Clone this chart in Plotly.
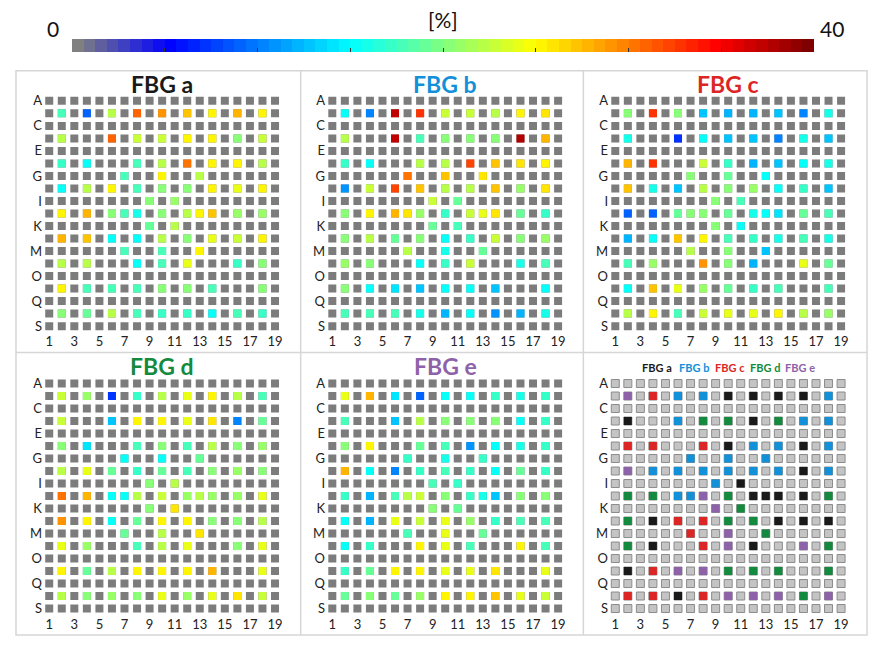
# FBG strain maps: 19x19 grid, five sensors + summary of the dominant one
import plotly.graph_objects as go

W, H = 893, 652      # browser window
OFF = 8              # default body margin of the html page
FW, FH = W - OFF, H - OFF

# ── DATA ────────────────────────────────────────────────────
row_labels = list("ABCDEFGHIJKLMNOPQRS")
col_numbers = list(range(1, 20))
x_ticks = list(range(1, 20, 2))
y_tick_labels = row_labels[::2]

# measured sites (row, column), in reading order
sites = [
    ("B", 2), ("B", 4), ("B", 6), ("B", 8), ("B", 10), ("B", 12), ("B", 14), ("B", 16), ("B", 18),
    ("D", 2), ("D", 6), ("D", 8), ("D", 10), ("D", 12), ("D", 14), ("D", 16), ("D", 18),
    ("F", 2), ("F", 4), ("F", 8), ("F", 10), ("F", 12), ("F", 14), ("F", 16), ("F", 18),
    ("G", 7), ("G", 10), ("G", 13),
    ("H", 2), ("H", 4), ("H", 6), ("H", 8), ("H", 10), ("H", 12), ("H", 14), ("H", 16), ("H", 18),
    ("I", 9), ("I", 11),
    ("J", 2), ("J", 4), ("J", 6), ("J", 7), ("J", 8), ("J", 10), ("J", 12), ("J", 13), ("J", 14), ("J", 16), ("J", 18),
    ("K", 9), ("K", 11),
    ("L", 2), ("L", 4), ("L", 6), ("L", 8), ("L", 10), ("L", 12), ("L", 14), ("L", 16), ("L", 18),
    ("M", 7), ("M", 10), ("M", 13),
    ("N", 2), ("N", 4), ("N", 8), ("N", 10), ("N", 12), ("N", 16), ("N", 18),
    ("P", 2), ("P", 4), ("P", 6), ("P", 8), ("P", 10), ("P", 12), ("P", 14), ("P", 18),
    ("R", 2), ("R", 4), ("R", 6), ("R", 8), ("R", 10), ("R", 12), ("R", 14), ("R", 16), ("R", 18),
]

# values in [%], same order as sites
fbg_a = [
    18, 9, 22, 31, 29, 27, 25, 28, 25,
    22, 31, 23, 23, 25, 25, 20, 23,
    17, 15, 18, 22, 30, 25, 25, 22,
    18, 25, 22,
    15, 22, 25, 18, 20, 20, 25, 24, 25,
    20, 21,
    25, 28, 20, 18, 16, 20, 22, 25, 27, 21, 21,
    19, 22,
    28, 27, 15, 15, 22, 20, 24, 23, 25,
    18, 18, 25,
    22, 22, 15, 18, 24, 17, 20,
    25, 18, 18, 18, 20, 20, 18, 20,
    20, 19, 22, 18, 17, 17, 15, 18, 17,
]
fbg_b = [
    15, 10, 37, 33, 23, 23, 22, 25, 26,
    22, 37, 18, 20, 20, 20, 38, 28,
    17, 15, 22, 22, 32, 27, 26, 25,
    30, 27, 26,
    11, 23, 32, 27, 22, 22, 27, 21, 26,
    23, 19,
    20, 25, 28, 26, 21, 17, 23, 24, 26, 19, 17,
    19, 18,
    20, 22, 19, 20, 15, 17, 23, 20, 21,
    22, 16, 19,
    21, 20, 15, 17, 23, 16, 18,
    20, 15, 14, 13, 15, 15, 13, 15,
    18, 18, 18, 16, 12, 15, 11, 12, 16,
]
fbg_c = [
    20, 33, 20, 13, 12, 12, 13, 10, 16,
    16, 7, 15, 13, 13, 10, 16, 13,
    28, 33, 23, 17, 12, 13, 15, 16,
    20, 19, 15,
    27, 16, 13, 22, 20, 21, 15, 17, 13,
    20, 18,
    9, 9, 19, 20, 20, 19, 16, 15, 14, 19, 18,
    20, 15,
    12, 15, 27, 25, 18, 17, 16, 18, 16,
    22, 20, 13,
    18, 21, 29, 20, 12, 24, 19,
    15, 27, 24, 21, 19, 17, 18, 18,
    22, 25, 18, 23, 24, 24, 25, 22, 21,
]
fbg_d = [
    23, 21, 7, 17, 22, 24, 25, 22, 18,
    23, 13, 25, 25, 24, 26, 10, 19,
    20, 14, 18, 20, 18, 22, 20, 21,
    15, 15, 19,
    22, 24, 19, 17, 19, 18, 20, 21, 20,
    20, 22,
    30, 28, 15, 15, 22, 23, 21, 22, 21, 21, 24,
    20, 26,
    29, 25, 15, 19, 25, 25, 20, 20, 22,
    19, 22, 26,
    24, 21, 18, 22, 24, 20, 24,
    25, 19, 22, 25, 25, 25, 28, 24,
    22, 20, 21, 20, 24, 21, 24, 26, 23,
]
fbg_e = [
    24, 28, 14, 9, 15, 15, 17, 16, 17,
    18, 13, 22, 20, 20, 20, 15, 17,
    20, 25, 19, 18, 11, 15, 16, 17,
    17, 16, 17,
    28, 15, 10, 17, 18, 17, 15, 19, 17,
    18, 17,
    17, 12, 18, 22, 23, 20, 17, 16, 13, 20, 20,
    20, 19,
    15, 12, 24, 23, 24, 21, 17, 18, 18,
    18, 24, 19,
    15, 17, 25, 24, 18, 25, 18,
    17, 19, 25, 25, 24, 24, 26, 24,
    19, 20, 19, 21, 25, 25, 27, 24, 23,
]
# which sensor is shown at each site in the summary panel
dominant = [
    "e", "c", "b", "b", "a", "a", "a", "a", "b",
    "a", "b", "d", "d", "a", "d", "b", "b",
    "c", "c", "c", "a", "b", "b", "a", "b",
    "b", "b", "b",
    "e", "b", "b", "b", "b", "b", "b", "a", "b",
    "b", "a",
    "d", "d", "b", "b", "e", "d", "a", "a", "a", "a", "d",
    "e", "d",
    "d", "a", "c", "c", "d", "d", "a", "a", "a",
    "c", "e", "d",
    "d", "a", "c", "e", "a", "e", "d",
    "a", "c", "e", "e", "d", "d", "d", "d",
    "c", "c", "a", "c", "e", "e", "e", "d", "e",
]

sensor_names = ["a", "b", "c", "d", "e"]
sensor_values = [fbg_a, fbg_b, fbg_c, fbg_d, fbg_e]
sensor_colors = {"a": "#1a1a1a", "b": "#1290d8", "c": "#dc2626",
                 "d": "#138a3e", "e": "#8e62a8"}

# ── COLOUR SCALE: jet with grey at zero, 64 steps ───────────
anchors = [(0.0, (128, 128, 128)), (0.125, (0, 0, 255)), (0.375, (0, 255, 255)),
           (0.625, (255, 255, 0)), (0.875, (255, 0, 0)), (1.0, (128, 0, 0))]


def jet_grey(t):
    for (t0, c0), (t1, c1) in zip(anchors[:-1], anchors[1:]):
        if t <= t1:
            f = (t - t0) / (t1 - t0)
            return "rgb(%d,%d,%d)" % tuple(round(a + (b - a) * f) for a, b in zip(c0, c1))
    return "rgb(128,0,0)"


n_steps = 64
colorscale = []
for i in range(n_steps):
    c = jet_grey(i / (n_steps - 1))
    colorscale += [[i / n_steps, c], [(i + 1) / n_steps, c]]


# ── LAYOUT GEOMETRY (window pixels -> paper) ────────────────
def px(x):
    return (x - OFF) / FW


def py(y):
    return 1 - (y - OFF) / FH


x_dom = [(43.0, 281.6), (326.4, 565.0), (609.7, 848.3)]
y_dom = [(93.0, 331.9), (377.0, 615.6)]
FONT = "Lato, 'Open Sans', sans-serif"

grid_x = [c for r in row_labels for c in col_numbers]
grid_y = [i + 1 for i, r in enumerate(row_labels) for c in col_numbers]
site_x = [c for r, c in sites]
site_y = [row_labels.index(r) + 1 for r, c in sites]

fig = go.Figure()
layout_axes = {}
annotations = []


def label(txt, x, y, size, color="#111"):
    return dict(x=px(x), y=py(y), xref="paper", yref="paper", text=txt,
                showarrow=False, xanchor="center", yanchor="middle",
                font=dict(size=size, color=color, family=FONT))


for k in range(6):
    r, c = divmod(k, 3)
    sfx = "" if k == 0 else str(k + 1)
    x0, x1 = x_dom[c]
    y0, y1 = y_dom[r]
    layout_axes["xaxis" + sfx] = dict(
        domain=[px(x0), px(x1)], range=[0.5, 19.5], anchor="y" + sfx,
        tickvals=x_ticks, showgrid=False, zeroline=False, showline=False,
        ticks="", fixedrange=True, tickfont=dict(size=13, color="#222", family=FONT))
    layout_axes["yaxis" + sfx] = dict(
        domain=[py(y1), py(y0)], range=[19.5, 0.5], anchor="x" + sfx,
        tickvals=x_ticks, ticktext=y_tick_labels, showgrid=False, zeroline=False,
        showline=False, ticks="", fixedrange=True,
        tickfont=dict(size=13, color="#222", family=FONT))

    is_summary = k == 5
    fig.add_trace(go.Scatter(
        x=grid_x, y=grid_y, mode="markers", xaxis="x" + sfx, yaxis="y" + sfx,
        marker=dict(symbol="square", size=8,
                    color="#c4c4c4" if is_summary else "#7c7c7c",
                    line=dict(width=1 if is_summary else 0, color="#8c8c8c")),
        hoverinfo="skip", showlegend=False))

    if is_summary:
        fig.add_trace(go.Scatter(
            x=site_x, y=site_y, mode="markers", xaxis="x" + sfx, yaxis="y" + sfx,
            marker=dict(symbol="square", size=8,
                        color=[sensor_colors[s] for s in dominant], line=dict(width=0)),
            text=["FBG " + s for s in dominant], showlegend=False))
        # coloured legend text above the summary grid
        for name, xc in zip(sensor_names, [658, 695, 731, 766, 801]):
            annotations.append(label("<b>FBG " + name + "</b>", xc, 367, 11,
                                     sensor_colors[name]))
    else:
        name = sensor_names[k]
        fig.add_trace(go.Scatter(
            x=site_x, y=site_y, mode="markers", xaxis="x" + sfx, yaxis="y" + sfx,
            marker=dict(symbol="square", size=8, color=sensor_values[k],
                        coloraxis="coloraxis", line=dict(width=0)),
            name="FBG " + name, showlegend=False))
        title_y = 82 if r == 0 else 366
        annotations.append(label("<b>FBG " + name + "</b>", (x0 + x1) / 2, title_y, 23,
                                 sensor_colors[name]))

# colour bar labels
annotations += [label("0", 53, 27, 21), label("40", 833, 27, 21), label("[%]", 443, 18, 21)]

# panel frame
line_style = dict(color="#d6d6d6", width=1.5)
shapes = [
    dict(type="rect", xref="paper", yref="paper", x0=px(16), x1=px(868),
         y0=py(636), y1=py(69), line=line_style),
    dict(type="line", xref="paper", yref="paper", x0=px(301), x1=px(301),
         y0=py(636), y1=py(69), line=line_style),
    dict(type="line", xref="paper", yref="paper", x0=px(584), x1=px(584),
         y0=py(636), y1=py(69), line=line_style),
    dict(type="line", xref="paper", yref="paper", x0=px(16), x1=px(868),
         y0=py(352), y1=py(352), line=line_style),
]

fig.update_layout(
    width=FW, height=FH, margin=dict(l=0, r=0, t=0, b=0),
    paper_bgcolor="white", plot_bgcolor="white", showlegend=False,
    annotations=annotations, shapes=shapes,
    coloraxis=dict(
        cmin=0, cmax=40, colorscale=colorscale,
        colorbar=dict(orientation="h", thickness=13, len=743 / FW, lenmode="fraction",
                      x=px(443.5), xanchor="center", y=py(36.7), yanchor="top",
                      xpad=0, ypad=0, outlinewidth=0, ticks="inside",
                      tickvals=[5, 10, 15, 20, 25, 30, 35], ticklen=4,
                      tickcolor="#333", showticklabels=False)),
    **layout_axes,
)

fig.write_html("out.html")
